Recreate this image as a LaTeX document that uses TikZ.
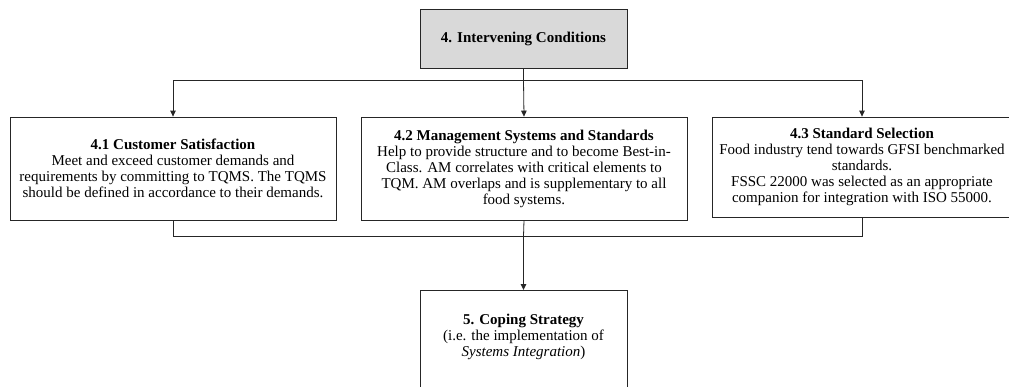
\documentclass[tikz,border=0pt]{standalone}
\usepackage{fontspec}
\setmainfont{Liberation Serif}
\usetikzlibrary{arrows.meta,positioning}
\begin{document}
\begin{tikzpicture}[x=1pt,y=-1pt,
  every node/.style={font=\fontsize{15}{16}\selectfont},
  box/.style={draw=black!85,line width=0.8pt,rectangle,inner sep=0pt,align=center},
  txt/.style={inner sep=0pt,align=center},
  link/.style={draw=black!85,line width=0.8pt},
  arr/.style={link,-{Triangle[length=6pt,width=5.5pt]}}]
\useasboundingbox (0,0) rectangle (1009,386);
\fill[white] (0,0) rectangle (1009,386);

% top box
\node[box,fill=black!15,minimum width=207pt,minimum height=59pt] (top) at (523.5,38.5)
  {\textbf{4. Intervening Conditions}};

% three condition boxes
\node[box,minimum width=326pt,minimum height=103pt] (b1) at (173,168.5)
  {\textbf{4.1 Customer Satisfaction}\\
   Meet and exceed customer demands and\\
   requirements by committing to TQMS. The TQMS\\
   should be defined in accordance to their demands.};
\node[box,minimum width=326pt,minimum height=103pt] (b2) at (524,168.5)
  {\textbf{4.2 Management Systems and Standards}\\
   Help to provide structure and to become Best-in-\\
   Class. AM correlates with critical elements to\\
   TQM. AM overlaps and is supplementary to all\\
   food systems.};
\node[box,minimum width=300pt,minimum height=100pt] (b3) at (862,167)
  {\textbf{4.3 Standard Selection}\\
   Food industry tend towards GFSI benchmarked\\
   standards.\\
   FSSC 22000 was selected as an appropriate\\
   companion for integration with ISO 55000.};

% coping strategy box
\node[box,anchor=north,minimum width=207pt,minimum height=120pt] (b5) at (523.5,290) {};
\node[txt] (t5) at (523.5,337)
  {\textbf{5. Coping Strategy}\\
   (i.e. the implementation of\\
   \textit{Systems Integration})};

% distribution from the top box
\coordinate (jt) at (523.5,80.5);
\draw[link] (top.south) -- (jt);
\draw[arr] (jt) -| (b1.north);
\draw[arr] (jt) -- (b2.north);
\draw[arr] (jt) -| (b3.north);

% collection into the coping strategy
\coordinate (jb) at (523.5,236);
\draw[link] (b1.south) |- (jb);
\draw[link] (b3.south) |- (jb);
\draw[link] (b2.south) -- (jb);
\draw[arr,line width=1.3pt] (jb) -- (b5.north);
\end{tikzpicture}
\end{document}
